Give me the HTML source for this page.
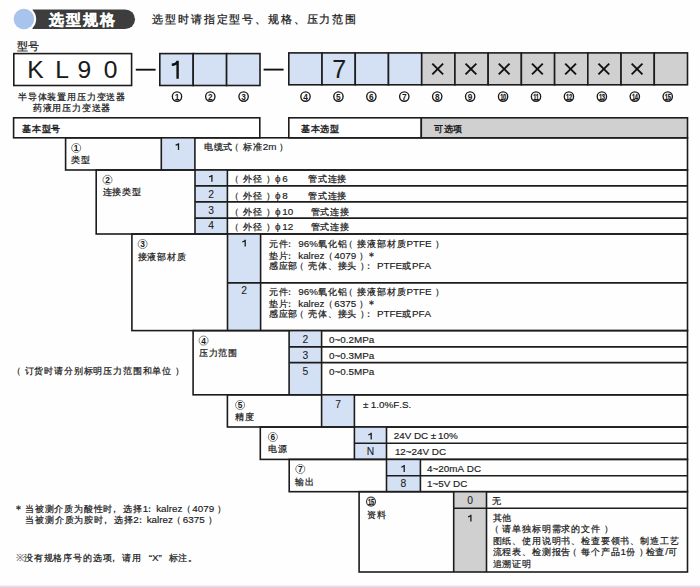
<!DOCTYPE html>
<html><head><meta charset="utf-8"><style>
html,body{margin:0;padding:0;background:#fefefe;width:700px;height:587px;overflow:hidden;}
body{position:relative;font-family:"Liberation Sans",sans-serif;}
svg{position:absolute;left:0;top:0;}
svg text{font-family:"Liberation Sans",sans-serif;}
.t{position:absolute;white-space:nowrap;font-kerning:none;-webkit-text-stroke:0.25px currentColor;}
.t{letter-spacing:-0.17px;}
.l{letter-spacing:0;-webkit-text-stroke:0.08px currentColor;}
.s{font-size:9px;letter-spacing:0.83px;-webkit-text-stroke:0.22px currentColor;}
.s .l{font-size:9.85px;letter-spacing:0;-webkit-text-stroke:0.16px currentColor;}
.op{position:relative;left:-3px;}
.co{position:relative;left:-3.0px;}
.co2{margin-right:-2px;}
.op2{position:relative;left:-0.8px;margin-right:0px;}
.ast{font-size:11px;position:relative;top:1.2px;}
.cm{position:relative;left:-3.3px;}
.ql{display:inline-block;width:10px;text-align:right;letter-spacing:0;}
.qr{display:inline-block;width:10px;text-align:left;letter-spacing:0;}
.cp{position:relative;left:3px;}
</style></head><body>
<svg width="700" height="587" viewBox="0 0 700 587">
<path d="M32.5 9.4 H125.2 A9.8 9.8 0 0 1 125.2 29 H32.5 Z" fill="#3d3d3d"/>
<circle cx="23.9" cy="19" r="12.3" fill="#ffffff"/>
<circle cx="23.9" cy="19" r="10.3" fill="#a9c4ec"/>
<rect x="13.80" y="53.60" width="117.80" height="31.90" fill="#ffffff" stroke="#1c1c1c" stroke-width="1.6"/>
<line x1="135.80" y1="69.70" x2="155.60" y2="69.70" stroke="#111" stroke-width="1.9"/>
<rect x="159.80" y="53.60" width="33.40" height="31.90" fill="#d4e1f4" stroke="#1c1c1c" stroke-width="1.6"/>
<rect x="193.20" y="53.60" width="33.40" height="31.90" fill="#d4e1f4" stroke="#1c1c1c" stroke-width="1.6"/>
<rect x="226.60" y="53.60" width="33.40" height="31.90" fill="#d4e1f4" stroke="#1c1c1c" stroke-width="1.6"/>
<path d="M177.6 60.8 V78.7 M177.6 61.2 C176.6 63.8 174.8 64.6 171.8 64.8" fill="none" stroke="#111" stroke-width="2.4"/>
<line x1="263.60" y1="69.60" x2="283.60" y2="69.60" stroke="#111" stroke-width="1.9"/>
<rect x="288.80" y="52.90" width="33.23" height="31.90" fill="#d4e1f4" stroke="#1c1c1c" stroke-width="1.6"/>
<rect x="322.03" y="52.90" width="33.22" height="31.90" fill="#d4e1f4" stroke="#1c1c1c" stroke-width="1.6"/>
<rect x="355.25" y="52.90" width="33.23" height="31.90" fill="#d4e1f4" stroke="#1c1c1c" stroke-width="1.6"/>
<rect x="388.48" y="52.90" width="33.23" height="31.90" fill="#d4e1f4" stroke="#1c1c1c" stroke-width="1.6"/>
<rect x="421.70" y="52.90" width="33.22" height="31.90" fill="#d0d0d0" stroke="#1c1c1c" stroke-width="1.6"/>
<rect x="454.93" y="52.90" width="33.22" height="31.90" fill="#d0d0d0" stroke="#1c1c1c" stroke-width="1.6"/>
<rect x="488.15" y="52.90" width="33.23" height="31.90" fill="#d0d0d0" stroke="#1c1c1c" stroke-width="1.6"/>
<rect x="521.38" y="52.90" width="33.23" height="31.90" fill="#d0d0d0" stroke="#1c1c1c" stroke-width="1.6"/>
<rect x="554.60" y="52.90" width="33.23" height="31.90" fill="#d0d0d0" stroke="#1c1c1c" stroke-width="1.6"/>
<rect x="587.83" y="52.90" width="33.22" height="31.90" fill="#d0d0d0" stroke="#1c1c1c" stroke-width="1.6"/>
<rect x="621.05" y="52.90" width="33.23" height="31.90" fill="#d0d0d0" stroke="#1c1c1c" stroke-width="1.6"/>
<rect x="654.27" y="52.90" width="33.23" height="31.90" fill="#d0d0d0" stroke="#1c1c1c" stroke-width="1.6"/>
<line x1="432.31" y1="63.60" x2="443.11" y2="74.40" stroke="#111" stroke-width="1.9"/>
<line x1="432.31" y1="74.40" x2="443.11" y2="63.60" stroke="#111" stroke-width="1.9"/>
<line x1="465.54" y1="63.60" x2="476.34" y2="74.40" stroke="#111" stroke-width="1.9"/>
<line x1="465.54" y1="74.40" x2="476.34" y2="63.60" stroke="#111" stroke-width="1.9"/>
<line x1="498.76" y1="63.60" x2="509.56" y2="74.40" stroke="#111" stroke-width="1.9"/>
<line x1="498.76" y1="74.40" x2="509.56" y2="63.60" stroke="#111" stroke-width="1.9"/>
<line x1="531.99" y1="63.60" x2="542.79" y2="74.40" stroke="#111" stroke-width="1.9"/>
<line x1="531.99" y1="74.40" x2="542.79" y2="63.60" stroke="#111" stroke-width="1.9"/>
<line x1="565.21" y1="63.60" x2="576.01" y2="74.40" stroke="#111" stroke-width="1.9"/>
<line x1="565.21" y1="74.40" x2="576.01" y2="63.60" stroke="#111" stroke-width="1.9"/>
<line x1="598.44" y1="63.60" x2="609.24" y2="74.40" stroke="#111" stroke-width="1.9"/>
<line x1="598.44" y1="74.40" x2="609.24" y2="63.60" stroke="#111" stroke-width="1.9"/>
<line x1="631.66" y1="63.60" x2="642.46" y2="74.40" stroke="#111" stroke-width="1.9"/>
<line x1="631.66" y1="74.40" x2="642.46" y2="63.60" stroke="#111" stroke-width="1.9"/>
<circle cx="177.00" cy="96.60" r="4.67" fill="none" stroke="#1a1a1a" stroke-width="1.35"/>
<text x="177.00" y="99.59" font-size="8.3" font-weight="bold" text-anchor="middle" fill="#1a1a1a">1</text>
<circle cx="210.30" cy="96.60" r="4.67" fill="none" stroke="#1a1a1a" stroke-width="1.35"/>
<text x="210.30" y="99.59" font-size="8.3" font-weight="bold" text-anchor="middle" fill="#1a1a1a">2</text>
<circle cx="243.60" cy="96.60" r="4.67" fill="none" stroke="#1a1a1a" stroke-width="1.35"/>
<text x="243.60" y="99.59" font-size="8.3" font-weight="bold" text-anchor="middle" fill="#1a1a1a">3</text>
<circle cx="305.50" cy="96.60" r="4.67" fill="none" stroke="#1a1a1a" stroke-width="1.35"/>
<text x="305.50" y="99.59" font-size="8.3" font-weight="bold" text-anchor="middle" fill="#1a1a1a">4</text>
<circle cx="338.43" cy="96.60" r="4.67" fill="none" stroke="#1a1a1a" stroke-width="1.35"/>
<text x="338.43" y="99.59" font-size="8.3" font-weight="bold" text-anchor="middle" fill="#1a1a1a">5</text>
<circle cx="371.36" cy="96.60" r="4.67" fill="none" stroke="#1a1a1a" stroke-width="1.35"/>
<text x="371.36" y="99.59" font-size="8.3" font-weight="bold" text-anchor="middle" fill="#1a1a1a">6</text>
<circle cx="404.29" cy="96.60" r="4.67" fill="none" stroke="#1a1a1a" stroke-width="1.35"/>
<text x="404.29" y="99.59" font-size="8.3" font-weight="bold" text-anchor="middle" fill="#1a1a1a">7</text>
<circle cx="437.22" cy="96.60" r="4.67" fill="none" stroke="#1a1a1a" stroke-width="1.35"/>
<text x="437.22" y="99.59" font-size="8.3" font-weight="bold" text-anchor="middle" fill="#1a1a1a">8</text>
<circle cx="470.15" cy="96.60" r="4.67" fill="none" stroke="#1a1a1a" stroke-width="1.35"/>
<text x="470.15" y="99.59" font-size="8.3" font-weight="bold" text-anchor="middle" fill="#1a1a1a">9</text>
<circle cx="503.08" cy="96.60" r="4.67" fill="none" stroke="#1a1a1a" stroke-width="1.35"/>
<text x="503.08" y="99.67" font-size="8.700000000000001" font-weight="bold" text-anchor="middle" fill="#1a1a1a" stroke="#1a1a1a" stroke-width="0.25" transform="translate(503.08 0) scale(0.66 1) translate(-503.08 0)" letter-spacing="-0.5">10</text>
<circle cx="536.01" cy="96.60" r="4.67" fill="none" stroke="#1a1a1a" stroke-width="1.35"/>
<text x="536.01" y="99.67" font-size="8.700000000000001" font-weight="bold" text-anchor="middle" fill="#1a1a1a" stroke="#1a1a1a" stroke-width="0.25" transform="translate(536.01 0) scale(0.66 1) translate(-536.01 0)" letter-spacing="-0.5">11</text>
<circle cx="568.94" cy="96.60" r="4.67" fill="none" stroke="#1a1a1a" stroke-width="1.35"/>
<text x="568.94" y="99.67" font-size="8.700000000000001" font-weight="bold" text-anchor="middle" fill="#1a1a1a" stroke="#1a1a1a" stroke-width="0.25" transform="translate(568.94 0) scale(0.66 1) translate(-568.94 0)" letter-spacing="-0.5">12</text>
<circle cx="601.87" cy="96.60" r="4.67" fill="none" stroke="#1a1a1a" stroke-width="1.35"/>
<text x="601.87" y="99.67" font-size="8.700000000000001" font-weight="bold" text-anchor="middle" fill="#1a1a1a" stroke="#1a1a1a" stroke-width="0.25" transform="translate(601.87 0) scale(0.66 1) translate(-601.87 0)" letter-spacing="-0.5">13</text>
<circle cx="634.80" cy="96.60" r="4.67" fill="none" stroke="#1a1a1a" stroke-width="1.35"/>
<text x="634.80" y="99.67" font-size="8.700000000000001" font-weight="bold" text-anchor="middle" fill="#1a1a1a" stroke="#1a1a1a" stroke-width="0.25" transform="translate(634.80 0) scale(0.66 1) translate(-634.80 0)" letter-spacing="-0.5">14</text>
<circle cx="667.73" cy="96.60" r="4.67" fill="none" stroke="#1a1a1a" stroke-width="1.35"/>
<text x="667.73" y="99.67" font-size="8.700000000000001" font-weight="bold" text-anchor="middle" fill="#1a1a1a" stroke="#1a1a1a" stroke-width="0.25" transform="translate(667.73 0) scale(0.66 1) translate(-667.73 0)" letter-spacing="-0.5">15</text>
<rect x="13.60" y="117.80" width="246.20" height="20.00" fill="#ffffff" stroke="#1c1c1c" stroke-width="1.6"/>
<rect x="288.80" y="117.80" width="132.50" height="20.00" fill="#ffffff" stroke="#1c1c1c" stroke-width="1.6"/>
<rect x="421.30" y="117.80" width="266.20" height="20.00" fill="#d0d0d0" stroke="#1c1c1c" stroke-width="1.6"/>
<rect x="161.30" y="137.80" width="33.60" height="32.20" fill="#d4e1f4"/>
<rect x="65.60" y="137.80" width="621.90" height="32.20" fill="none" stroke="#1c1c1c" stroke-width="1.6"/>
<line x1="161.30" y1="137.80" x2="161.30" y2="170.00" stroke="#1c1c1c" stroke-width="1.6"/>
<line x1="194.90" y1="137.80" x2="194.90" y2="170.00" stroke="#1c1c1c" stroke-width="1.6"/>
<circle cx="76.20" cy="148.00" r="4.55" fill="none" stroke="#777" stroke-width="0.9"/>
<text x="76.20" y="151.02" font-size="8.4" font-weight="bold" text-anchor="middle" fill="#1a1a1a">1</text>
<rect x="195.00" y="170.00" width="32.40" height="64.00" fill="#d4e1f4"/>
<rect x="96.20" y="170.00" width="591.30" height="64.00" fill="none" stroke="#1c1c1c" stroke-width="1.6"/>
<line x1="195.00" y1="170.00" x2="195.00" y2="234.00" stroke="#1c1c1c" stroke-width="1.6"/>
<line x1="227.40" y1="170.00" x2="227.40" y2="234.00" stroke="#1c1c1c" stroke-width="1.6"/>
<line x1="195.00" y1="185.90" x2="687.50" y2="185.90" stroke="#1c1c1c" stroke-width="1.6"/>
<line x1="195.00" y1="201.90" x2="687.50" y2="201.90" stroke="#1c1c1c" stroke-width="1.6"/>
<line x1="195.00" y1="218.10" x2="687.50" y2="218.10" stroke="#1c1c1c" stroke-width="1.6"/>
<circle cx="107.50" cy="179.80" r="4.55" fill="none" stroke="#777" stroke-width="0.9"/>
<text x="107.50" y="182.82" font-size="8.4" font-weight="bold" text-anchor="middle" fill="#1a1a1a">2</text>
<rect x="227.50" y="234.00" width="33.10" height="96.60" fill="#d4e1f4"/>
<rect x="131.90" y="234.00" width="555.60" height="96.60" fill="none" stroke="#1c1c1c" stroke-width="1.6"/>
<line x1="227.50" y1="234.00" x2="227.50" y2="330.60" stroke="#1c1c1c" stroke-width="1.6"/>
<line x1="260.60" y1="234.00" x2="260.60" y2="330.60" stroke="#1c1c1c" stroke-width="1.6"/>
<line x1="227.50" y1="282.90" x2="687.50" y2="282.90" stroke="#1c1c1c" stroke-width="1.6"/>
<circle cx="142.60" cy="244.00" r="4.55" fill="none" stroke="#777" stroke-width="0.9"/>
<text x="142.60" y="247.02" font-size="8.4" font-weight="bold" text-anchor="middle" fill="#1a1a1a">3</text>
<rect x="289.10" y="330.60" width="32.50" height="64.20" fill="#d4e1f4"/>
<rect x="193.10" y="330.60" width="494.40" height="64.20" fill="none" stroke="#1c1c1c" stroke-width="1.6"/>
<line x1="289.10" y1="330.60" x2="289.10" y2="394.80" stroke="#1c1c1c" stroke-width="1.6"/>
<line x1="321.60" y1="330.60" x2="321.60" y2="394.80" stroke="#1c1c1c" stroke-width="1.6"/>
<line x1="289.10" y1="346.90" x2="687.50" y2="346.90" stroke="#1c1c1c" stroke-width="1.6"/>
<line x1="289.10" y1="362.60" x2="687.50" y2="362.60" stroke="#1c1c1c" stroke-width="1.6"/>
<circle cx="203.60" cy="340.60" r="4.55" fill="none" stroke="#777" stroke-width="0.9"/>
<text x="203.60" y="343.62" font-size="8.4" font-weight="bold" text-anchor="middle" fill="#1a1a1a">4</text>
<rect x="321.60" y="394.80" width="32.80" height="32.20" fill="#d4e1f4"/>
<rect x="227.40" y="394.80" width="460.10" height="32.20" fill="none" stroke="#1c1c1c" stroke-width="1.6"/>
<line x1="321.60" y1="394.80" x2="321.60" y2="427.00" stroke="#1c1c1c" stroke-width="1.6"/>
<line x1="354.40" y1="394.80" x2="354.40" y2="427.00" stroke="#1c1c1c" stroke-width="1.6"/>
<circle cx="240.10" cy="405.00" r="4.55" fill="none" stroke="#777" stroke-width="0.9"/>
<text x="240.10" y="408.02" font-size="8.4" font-weight="bold" text-anchor="middle" fill="#1a1a1a">5</text>
<rect x="354.40" y="427.00" width="32.10" height="32.40" fill="#d4e1f4"/>
<rect x="260.30" y="427.00" width="427.20" height="32.40" fill="none" stroke="#1c1c1c" stroke-width="1.6"/>
<line x1="354.40" y1="427.00" x2="354.40" y2="459.40" stroke="#1c1c1c" stroke-width="1.6"/>
<line x1="386.50" y1="427.00" x2="386.50" y2="459.40" stroke="#1c1c1c" stroke-width="1.6"/>
<line x1="354.40" y1="443.30" x2="687.50" y2="443.30" stroke="#1c1c1c" stroke-width="1.6"/>
<circle cx="272.90" cy="437.00" r="4.55" fill="none" stroke="#777" stroke-width="0.9"/>
<text x="272.90" y="440.02" font-size="8.4" font-weight="bold" text-anchor="middle" fill="#1a1a1a">6</text>
<rect x="386.50" y="459.40" width="33.90" height="32.30" fill="#d4e1f4"/>
<rect x="289.20" y="459.40" width="398.30" height="32.30" fill="none" stroke="#1c1c1c" stroke-width="1.6"/>
<line x1="386.50" y1="459.40" x2="386.50" y2="491.70" stroke="#1c1c1c" stroke-width="1.6"/>
<line x1="420.40" y1="459.40" x2="420.40" y2="491.70" stroke="#1c1c1c" stroke-width="1.6"/>
<line x1="386.50" y1="475.70" x2="687.50" y2="475.70" stroke="#1c1c1c" stroke-width="1.6"/>
<circle cx="300.30" cy="469.00" r="4.55" fill="none" stroke="#777" stroke-width="0.9"/>
<text x="300.30" y="472.02" font-size="8.4" font-weight="bold" text-anchor="middle" fill="#1a1a1a">7</text>
<rect x="453.70" y="491.70" width="32.80" height="80.30" fill="#d0d0d0"/>
<rect x="359.10" y="491.70" width="328.40" height="80.30" fill="none" stroke="#1c1c1c" stroke-width="1.6"/>
<line x1="453.70" y1="491.70" x2="453.70" y2="572.00" stroke="#1c1c1c" stroke-width="1.6"/>
<line x1="486.50" y1="491.70" x2="486.50" y2="572.00" stroke="#1c1c1c" stroke-width="1.6"/>
<line x1="453.70" y1="508.20" x2="687.50" y2="508.20" stroke="#1c1c1c" stroke-width="1.6"/>
<circle cx="371.00" cy="501.60" r="4.50" fill="none" stroke="#444" stroke-width="1.2"/>
<text x="371.00" y="504.71" font-size="8.8" font-weight="bold" text-anchor="middle" fill="#1a1a1a" stroke="#1a1a1a" stroke-width="0.25" transform="translate(371.00 0) scale(0.66 1) translate(-371.00 0)" letter-spacing="-0.5">15</text>
<path d="M178.50 143.20 V150.00 M178.50 143.60 Q177.70 145.00 175.60 145.20" fill="none" stroke="#1a1a1a" stroke-width="1.3"/>
<path d="M211.90 174.90 V181.70 M211.90 175.30 Q211.10 176.70 209.00 176.90" fill="none" stroke="#1a1a1a" stroke-width="1.3"/>
<path d="M245.20 239.80 V246.60 M245.20 240.20 Q244.40 241.60 242.30 241.80" fill="none" stroke="#1a1a1a" stroke-width="1.3"/>
<path d="M371.20 432.80 V439.60 M371.20 433.20 Q370.40 434.60 368.30 434.80" fill="none" stroke="#1a1a1a" stroke-width="1.3"/>
<path d="M404.20 465.10 V471.90 M404.20 465.50 Q403.40 466.90 401.30 467.10" fill="none" stroke="#1a1a1a" stroke-width="1.3"/>
<path d="M470.90 514.80 V521.60 M470.90 515.20 Q470.10 516.60 468.00 516.80" fill="none" stroke="#1a1a1a" stroke-width="1.3"/>
<rect x="0.00" y="585.50" width="700.00" height="1.50" fill="#dde3f5"/>
</svg>
<div class="t" style="left:48.60px;top:10.40px;font-size:15.2px;line-height:20px;font-weight:bold;color:#ffffff;letter-spacing:2.2px;">选型规格</div>
<div class="t" style="left:152.30px;top:9.20px;font-size:11.2px;line-height:20px;font-weight:normal;color:#1a1a1a;letter-spacing:1.86px;">选型时请指定型号、规格、压力范围</div>
<div class="t" style="left:17.00px;top:36.20px;font-size:11px;line-height:20px;font-weight:normal;color:#1a1a1a;">型号</div>
<div class="t" style="left:-164.50px;width:400px;text-align:center;top:60.00px;font-size:24.6px;line-height:20px;font-weight:normal;color:#1a1a1a;"><span class="l">K</span></div>
<div class="t" style="left:-138.00px;width:400px;text-align:center;top:60.00px;font-size:24.6px;line-height:20px;font-weight:normal;color:#1a1a1a;"><span class="l">L</span></div>
<div class="t" style="left:-115.60px;width:400px;text-align:center;top:60.00px;font-size:24.6px;line-height:20px;font-weight:normal;color:#1a1a1a;"><span class="l">9</span></div>
<div class="t" style="left:-89.40px;width:400px;text-align:center;top:60.00px;font-size:24.6px;line-height:20px;font-weight:normal;color:#1a1a1a;"><span class="l">0</span></div>
<div class="t" style="left:139.14px;width:400px;text-align:center;top:59.30px;font-size:25px;line-height:20px;font-weight:normal;color:#1a1a1a;"><span class="l">7</span></div>
<div class="t s" style="left:-128.00px;width:400px;text-align:center;top:86.70px;line-height:20px;font-weight:normal;color:#1a1a1a;">半导体装置用压力变送器</div>
<div class="t s" style="left:-128.00px;width:400px;text-align:center;top:97.50px;line-height:20px;font-weight:normal;color:#1a1a1a;">药液用压力变送器</div>
<div class="t s" style="left:22.00px;top:118.80px;line-height:20px;font-weight:normal;color:#1a1a1a;-webkit-text-stroke:0.38px currentColor;">基本型号</div>
<div class="t s" style="left:300.80px;top:118.80px;line-height:20px;font-weight:normal;color:#1a1a1a;-webkit-text-stroke:0.38px currentColor;">基本选型</div>
<div class="t s" style="left:433.70px;top:118.80px;line-height:20px;font-weight:normal;color:#1a1a1a;-webkit-text-stroke:0.38px currentColor;">可选项</div>
<div class="t s" style="left:71.10px;top:150.00px;line-height:20px;font-weight:normal;color:#1a1a1a;">类型</div>
<div class="t s" style="left:102.60px;top:182.20px;line-height:20px;font-weight:normal;color:#1a1a1a;">连接类型</div>
<div class="t s" style="left:137.50px;top:246.70px;line-height:20px;font-weight:normal;color:#1a1a1a;">接液部材质</div>
<div class="t s" style="left:198.70px;top:342.80px;line-height:20px;font-weight:normal;color:#1a1a1a;">压力范围</div>
<div class="t s" style="left:235.00px;top:407.00px;line-height:20px;font-weight:normal;color:#1a1a1a;">精度</div>
<div class="t s" style="left:268.30px;top:439.10px;line-height:20px;font-weight:normal;color:#1a1a1a;">电源</div>
<div class="t s" style="left:295.30px;top:471.60px;line-height:20px;font-weight:normal;color:#1a1a1a;">输出</div>
<div class="t s" style="left:366.70px;top:504.80px;line-height:20px;font-weight:normal;color:#1a1a1a;">资料</div>
<div class="t s" style="left:203.70px;top:137.10px;line-height:20px;font-weight:normal;color:#1a1a1a;">电缆式<span class="op">（</span>标准<span class="l">2m</span><span class="cp">）</span></div>
<div class="t s" style="left:233.30px;top:169.30px;line-height:20px;font-weight:normal;color:#1a1a1a;"><span class="op">（</span>外径<span class="cp">）</span><span style="margin:0 1.6px 0 2.4px"><span class="l">ϕ</span></span><span class="l">6</span></div>
<div class="t s" style="left:307.90px;top:169.30px;line-height:20px;font-weight:normal;color:#1a1a1a;">管式连接</div>
<div class="t" style="left:11.20px;width:400px;text-align:center;top:184.90px;font-size:10.3px;line-height:20px;font-weight:normal;color:#1a1a1a;"><span class="l">2</span></div>
<div class="t s" style="left:233.30px;top:185.60px;line-height:20px;font-weight:normal;color:#1a1a1a;"><span class="op">（</span>外径<span class="cp">）</span><span style="margin:0 1.6px 0 2.4px"><span class="l">ϕ</span></span><span class="l">8</span></div>
<div class="t s" style="left:307.90px;top:185.60px;line-height:20px;font-weight:normal;color:#1a1a1a;">管式连接</div>
<div class="t" style="left:11.20px;width:400px;text-align:center;top:200.80px;font-size:10.3px;line-height:20px;font-weight:normal;color:#1a1a1a;"><span class="l">3</span></div>
<div class="t s" style="left:233.30px;top:201.50px;line-height:20px;font-weight:normal;color:#1a1a1a;"><span class="op">（</span>外径<span class="cp">）</span><span style="margin:0 1.6px 0 2.4px"><span class="l">ϕ</span></span><span class="l">10</span></div>
<div class="t s" style="left:310.60px;top:201.50px;line-height:20px;font-weight:normal;color:#1a1a1a;">管式连接</div>
<div class="t" style="left:11.20px;width:400px;text-align:center;top:215.90px;font-size:10.3px;line-height:20px;font-weight:normal;color:#1a1a1a;"><span class="l">4</span></div>
<div class="t s" style="left:233.30px;top:216.60px;line-height:20px;font-weight:normal;color:#1a1a1a;"><span class="op">（</span>外径<span class="cp">）</span><span style="margin:0 1.6px 0 2.4px"><span class="l">ϕ</span></span><span class="l">12</span></div>
<div class="t s" style="left:310.60px;top:216.60px;line-height:20px;font-weight:normal;color:#1a1a1a;">管式连接</div>
<div class="t s" style="left:268.70px;top:234.00px;line-height:20px;font-weight:normal;color:#1a1a1a;">元件<span class="co">：</span><span class="l">96%</span>氧化铝<span class="op">（</span>接液部材质<span class="l">PTFE</span><span class="cp">）</span></div>
<div class="t s" style="left:268.70px;top:245.00px;line-height:20px;font-weight:normal;color:#1a1a1a;">垫片<span class="co">：</span><span class="l">kalrez</span><span class="op2">（</span><span class="l">4079</span><span class="cp">）</span><span class="ast">＊</span></div>
<div class="t s" style="left:268.70px;top:256.00px;line-height:20px;font-weight:normal;color:#1a1a1a;">感应部<span class="op">（</span>壳体、接头<span class="cp">）</span><span class="co">：</span><span class="l">PTFE</span>或<span class="l">PFA</span></div>
<div class="t" style="left:44.00px;width:400px;text-align:center;top:281.30px;font-size:10.3px;line-height:20px;font-weight:normal;color:#1a1a1a;"><span class="l">2</span></div>
<div class="t s" style="left:268.70px;top:282.00px;line-height:20px;font-weight:normal;color:#1a1a1a;">元件<span class="co">：</span><span class="l">96%</span>氧化铝<span class="op">（</span>接液部材质<span class="l">PTFE</span><span class="cp">）</span></div>
<div class="t s" style="left:268.70px;top:293.00px;line-height:20px;font-weight:normal;color:#1a1a1a;">垫片<span class="co">：</span><span class="l">kalrez</span><span class="op2">（</span><span class="l">6375</span><span class="cp">）</span><span class="ast">＊</span></div>
<div class="t s" style="left:268.70px;top:304.00px;line-height:20px;font-weight:normal;color:#1a1a1a;">感应部<span class="op">（</span>壳体、接头<span class="cp">）</span><span class="co">：</span><span class="l">PTFE</span>或<span class="l">PFA</span></div>
<div class="t" style="left:105.30px;width:400px;text-align:center;top:330.00px;font-size:10.3px;line-height:20px;font-weight:normal;color:#1a1a1a;"><span class="l">2</span></div>
<div class="t s" style="left:329.10px;top:330.00px;line-height:20px;font-weight:normal;color:#1a1a1a;"><span class="l">0~0.2MPa</span></div>
<div class="t" style="left:105.30px;width:400px;text-align:center;top:345.70px;font-size:10.3px;line-height:20px;font-weight:normal;color:#1a1a1a;"><span class="l">3</span></div>
<div class="t s" style="left:329.10px;top:345.70px;line-height:20px;font-weight:normal;color:#1a1a1a;"><span class="l">0~0.3MPa</span></div>
<div class="t" style="left:105.30px;width:400px;text-align:center;top:362.00px;font-size:10.3px;line-height:20px;font-weight:normal;color:#1a1a1a;"><span class="l">5</span></div>
<div class="t s" style="left:329.10px;top:362.00px;line-height:20px;font-weight:normal;color:#1a1a1a;"><span class="l">0~0.5MPa</span></div>
<div class="t" style="left:138.00px;width:400px;text-align:center;top:394.90px;font-size:10.3px;line-height:20px;font-weight:normal;color:#1a1a1a;"><span class="l">7</span></div>
<div class="t s" style="left:362.90px;top:394.90px;line-height:20px;font-weight:normal;color:#1a1a1a;"><span style="margin:0 2.5px 0 0"><span class="l">±</span></span><span class="l">1.0%F.S.</span></div>
<div class="t s" style="left:393.70px;top:426.20px;line-height:20px;font-weight:normal;color:#1a1a1a;"><span class="l">24V DC</span><span style="margin:0 1.8px 0 2.6px"><span class="l">±</span></span><span class="l">10%</span></div>
<div class="t" style="left:170.40px;width:400px;text-align:center;top:442.10px;font-size:10.3px;line-height:20px;font-weight:normal;color:#1a1a1a;"><span class="l">N</span></div>
<div class="t s" style="left:394.90px;top:442.10px;line-height:20px;font-weight:normal;color:#1a1a1a;"><span class="l">12~24V DC</span></div>
<div class="t s" style="left:427.10px;top:458.70px;line-height:20px;font-weight:normal;color:#1a1a1a;"><span class="l">4~20mA DC</span></div>
<div class="t" style="left:203.40px;width:400px;text-align:center;top:474.40px;font-size:10.3px;line-height:20px;font-weight:normal;color:#1a1a1a;"><span class="l">8</span></div>
<div class="t s" style="left:427.10px;top:474.40px;line-height:20px;font-weight:normal;color:#1a1a1a;"><span class="l">1~5V DC</span></div>
<div class="t" style="left:270.10px;width:400px;text-align:center;top:490.50px;font-size:10.3px;line-height:20px;font-weight:normal;color:#1a1a1a;"><span class="l">0</span></div>
<div class="t s" style="left:492.40px;top:490.60px;line-height:20px;font-weight:normal;color:#1a1a1a;">无</div>
<div class="t s" style="left:492.60px;top:507.70px;line-height:20px;font-weight:normal;color:#1a1a1a;">其他</div>
<div class="t s" style="left:492.60px;top:519.25px;line-height:20px;font-weight:normal;color:#1a1a1a;"><span class="op">（</span>请单独标明需求的文件<span class="cp">）</span></div>
<div class="t s" style="left:492.60px;top:530.80px;line-height:20px;font-weight:normal;color:#1a1a1a;">图纸、使用说明书、检查要领书、制造工艺</div>
<div class="t s" style="left:492.60px;top:542.35px;line-height:20px;font-weight:normal;color:#1a1a1a;">流程表、检测报告<span class="op">（</span>每个产品<span class="l">1</span>份<span class="cp">）</span>检查<span class="l">/</span>可</div>
<div class="t s" style="left:492.60px;top:553.90px;line-height:20px;font-weight:normal;color:#1a1a1a;">追溯证明</div>
<div class="t s" style="left:14.80px;top:361.20px;line-height:20px;font-weight:normal;color:#1a1a1a;"><span class="op">（</span>订货时请分别标明压力范围和单位<span class="cp">）</span></div>
<div class="t s" style="left:13.00px;top:498.10px;line-height:20px;font-weight:normal;color:#1a1a1a;"><span class="ast">＊</span>当被测介质为酸性时<span class="cm">，</span>选择<span class="l">1</span><span class="co co2">：</span><span class="l">kalrez</span><span class="op2">（</span><span class="l">4079</span><span class="cp">）</span></div>
<div class="t s" style="left:25.20px;top:509.70px;line-height:20px;font-weight:normal;color:#1a1a1a;">当被测介质为胺时<span class="cm">，</span>选择<span class="l">2</span><span class="co co2">：</span><span class="l">kalrez</span><span class="op2">（</span><span class="l">6375</span><span class="cp">）</span></div>
<div class="t s" style="left:16.00px;top:547.70px;line-height:20px;font-weight:normal;color:#1a1a1a;"><span style="color:#777;-webkit-text-stroke:0"><span class="l">※</span></span>没有规格序号的选项<span class="cm">，</span>请用<span class="l"><span class="ql">“</span>X<span class="qr">”</span></span>标注。</div>
</body></html>
